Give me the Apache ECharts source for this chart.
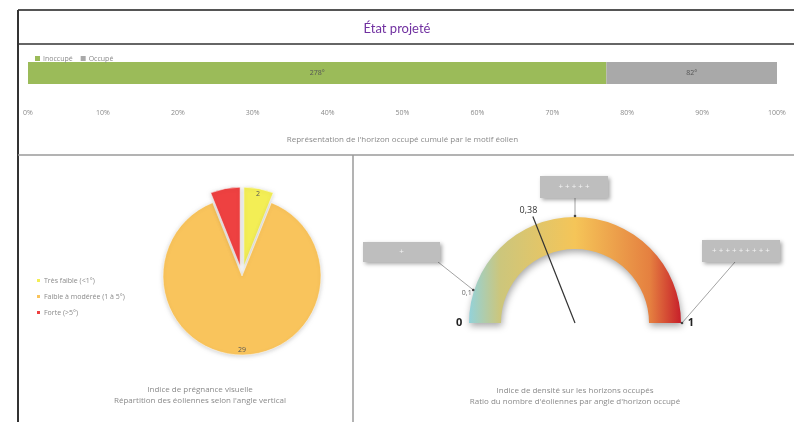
<!DOCTYPE html>
<html>
<head>
<meta charset="utf-8">
<title>État projeté</title>
<script src="https://cdn.jsdelivr.net/npm/echarts@6/dist/echarts.min.js"></script>
<style>
  html, body { margin: 0; padding: 0; background: #ffffff; }
  #chart { width: 794px; height: 422px; }
</style>
</head>
<body>
<div id="chart"></div>
<script>
// Horizon occupancy (degrees)
const horizonNames = ['Inoccupé', 'Occupé'];
const horizonDegrees = [278, 82];

// Visual prominence: wind turbines by vertical angle class
const prominenceNames = ['Très faible (<1°)', 'Faible à modérée (1 à 5°)', 'Forte (>5°)'];
const prominenceCounts = [2, 29, 2];
const prominenceShowLabel = [true, true, false];

// Density index on occupied horizons
const densityValue = 0.38;
const densityMin = 0;
const densityMax = 1;
const densityLabelValues = [0, 0.1, 1];
const calloutValues = [0.1, 0.5, 1];
const calloutTexts = ['+', '+ + + + +', '+ + + + + + + + +'];

const FONT = '"Open Sans", "DejaVu Sans", sans-serif';
const GREY_TEXT = '#8a8a8a';

const horizonTotal = horizonDegrees.reduce((a, b) => a + b, 0);

// gauge geometry
const GAUGE_CENTER = [575, 323];
const GAUGE_RADIUS = 106;
const GAUGE_WIDTH = 32;

function gaugePoint(v, r) {
  const a = Math.PI * (1 - (v - densityMin) / (densityMax - densityMin));
  return [GAUGE_CENTER[0] + r * Math.cos(a), GAUGE_CENTER[1] - r * Math.sin(a)];
}

// colour ramp along the arc, expressed as a left-to-right gradient
// (position t along the arc lands at x = (1 - cos(pi t)) / 2 of the arc's box)
const rampStops = [[0, '#93D2DA'], [0.25, '#CCC67C'], [0.5, '#F5C558'], [0.75, '#E58040'], [1, '#C71F2A']];
const rampGradient = new echarts.graphic.LinearGradient(0, 0, 1, 0,
  rampStops.map(([t, c]) => ({ offset: (1 - Math.cos(Math.PI * t)) / 2, color: c })));

const prominenceColors = ['#F3EE55', '#F9C45C', '#EE4141'];

const pieData = prominenceNames.map((n, i) => ({
  name: n,
  value: prominenceCounts[i],
  selected: i !== 1,
  itemStyle: { color: prominenceColors[i] }
}));
const pieLabelData = prominenceNames.map((n, i) => ({
  name: n,
  value: prominenceCounts[i],
  selected: i !== 1,
  label: { show: prominenceShowLabel[i] }
}));

// callout boxes and leader lines for the gauge
const calloutBoxes = [
  { x: 363, y: 242, w: 77, h: 20, from: [438, 262] },
  { x: 540, y: 176, w: 68, h: 22, from: [575, 198] },
  { x: 702, y: 240, w: 78, h: 22, from: [735, 262] }
];
const calloutGraphics = [];
calloutBoxes.forEach((b, i) => {
  const end = gaugePoint(calloutValues[i], GAUGE_RADIUS + 1);
  calloutGraphics.push({
    type: 'line', silent: true,
    shape: { x1: b.from[0], y1: b.from[1], x2: end[0], y2: end[1] },
    style: { stroke: '#8c8c8c', lineWidth: 0.8 }
  });
  calloutGraphics.push({
    type: 'circle', silent: true,
    shape: { cx: end[0], cy: end[1], r: 1.3 },
    style: { fill: '#444' }, z: 10
  });
  calloutGraphics.push({
    type: 'rect', silent: true,
    shape: { x: b.x, y: b.y, width: b.w, height: b.h },
    style: { fill: '#BEBEBE', shadowBlur: 4, shadowOffsetX: 2, shadowOffsetY: 2, shadowColor: 'rgba(0,0,0,0.35)' }
  });
  calloutGraphics.push({
    type: 'text', silent: true,
    style: {
      x: b.x + b.w / 2, y: b.y + b.h / 2, text: calloutTexts[i],
      align: 'center', verticalAlign: 'middle',
      fill: '#f4f4f4', font: '8px ' + FONT
    }
  });
});

const frameGraphics = [
  { type: 'line', shape: { x1: 18, y1: 10, x2: 794, y2: 10 }, style: { stroke: '#555', lineWidth: 2 } },
  { type: 'line', shape: { x1: 18, y1: 44, x2: 794, y2: 44 }, style: { stroke: '#666', lineWidth: 2 } },
  { type: 'line', shape: { x1: 18, y1: 10, x2: 18, y2: 422 }, style: { stroke: '#333', lineWidth: 2 } },
  { type: 'line', shape: { x1: 18, y1: 155, x2: 794, y2: 155 }, style: { stroke: '#9a9a9a', lineWidth: 1.5 } },
  { type: 'line', shape: { x1: 353, y1: 155, x2: 353, y2: 422 }, style: { stroke: '#9a9a9a', lineWidth: 1.5 } }
];

function caption(x, y, text) {
  return {
    type: 'text', silent: true,
    style: { x: x, y: y, text: text, align: 'center', verticalAlign: 'middle', fill: GREY_TEXT, font: '8px ' + FONT }
  };
}

const chart = echarts.init(document.getElementById('chart'), null, { renderer: 'canvas' });

const option = {
  backgroundColor: '#ffffff',
  animation: false,
  title: {
    text: 'État projeté',
    left: 'center',
    top: 17,
    textStyle: { color: '#7030A0', fontSize: 13, fontWeight: 'normal', fontFamily: 'Lato, "Open Sans", sans-serif' }
  },
  legend: [
    {
      data: horizonNames,
      left: 30, top: 50,
      icon: 'rect', itemWidth: 5, itemHeight: 5, itemGap: 8,
      textStyle: { fontSize: 7, color: GREY_TEXT, fontFamily: FONT, padding: [0, 0, 0, -2] }
    },
    {
      data: prominenceNames,
      orient: 'vertical',
      left: 30, top: 272,
      icon: 'rect', itemWidth: 5, itemHeight: 5, itemGap: 9,
      textStyle: { fontSize: 7, color: GREY_TEXT, fontFamily: FONT, padding: [0, 0, 0, -2] }
    }
  ],
  grid: { left: 28, right: 17, top: 62, height: 22, containLabel: false },
  xAxis: {
    type: 'value',
    min: 0,
    max: horizonTotal,
    interval: horizonTotal / 10,
    axisLine: { show: false },
    axisTick: { show: false },
    splitLine: { show: false },
    axisLabel: {
      formatter: v => Math.round(v / horizonTotal * 100) + '%',
      fontSize: 7, color: GREY_TEXT, fontFamily: FONT, margin: 25
    },
    name: 'Représentation de l\'horizon occupé cumulé par le motif éolien',
    nameLocation: 'middle',
    nameGap: 52,
    nameTextStyle: { fontSize: 8, color: GREY_TEXT, fontFamily: FONT }
  },
  yAxis: { type: 'category', data: ['horizon'], show: false },
  series: [
    {
      name: horizonNames[0], type: 'bar', stack: 'horizon', barWidth: '100%',
      data: [horizonDegrees[0]],
      itemStyle: { color: '#9BBB59' },
      label: { show: true, position: 'inside', formatter: '{c}°', fontSize: 7, color: '#555', fontFamily: FONT }
    },
    {
      name: horizonNames[1], type: 'bar', stack: 'horizon', barWidth: '100%',
      data: [horizonDegrees[1]],
      itemStyle: { color: '#A9A9A9' },
      label: { show: true, position: 'inside', formatter: '{c}°', fontSize: 7, color: '#555', fontFamily: FONT }
    },
    {
      name: 'Prégnance', type: 'pie',
      center: [242, 276], radius: 79,
      startAngle: 90, clockwise: true,
      selectedMode: 'multiple', selectedOffset: 10,
      label: { show: false }, labelLine: { show: false },
      itemStyle: { borderColor: '#ffffff', borderWidth: 0.5, shadowBlur: 4, shadowColor: 'rgba(0,0,0,0.18)', shadowOffsetY: 1 },
      emphasis: { disabled: true },
      data: pieData
    },
    {
      name: 'PrégnanceLabels', type: 'pie',
      center: [242, 276], radius: [60, 82],
      startAngle: 90, clockwise: true,
      selectedMode: 'multiple', selectedOffset: 10,
      silent: true, legendHoverLink: false,
      itemStyle: { color: 'rgba(0,0,0,0)' },
      label: { show: true, position: 'inside', formatter: '{c}', fontSize: 7, color: '#555', fontFamily: FONT },
      labelLine: { show: false },
      emphasis: { disabled: true },
      data: pieLabelData
    },
    {
      name: 'Densité', type: 'gauge',
      center: GAUGE_CENTER, radius: GAUGE_RADIUS,
      startAngle: 180, endAngle: 0,
      min: densityMin, max: densityMax, splitNumber: 10,
      progress: { show: false },
      splitLine: { show: false, length: 0, distance: 0 },
      axisTick: { show: false },
      anchor: { show: false },
      title: { show: false },
      axisLine: {
        roundCap: false,
        lineStyle: {
          width: GAUGE_WIDTH, color: [[1, rampGradient]],
          shadowBlur: 7, shadowColor: 'rgba(0,0,0,0.35)', shadowOffsetY: 3, shadowOffsetX: 1
        }
      },
      axisLabel: {
        distance: -13,
        formatter: v => {
          const hit = densityLabelValues.find(d => Math.abs(d - v) < 1e-6);
          if (hit === undefined) return '';
          const txt = String(hit).replace('.', ',');
          return hit === densityMin || hit === densityMax ? '{big|' + txt + '}' : '{small|' + txt + '}';
        },
        rich: {
          big: { fontSize: 11, color: '#222', fontFamily: FONT, fontWeight: 'bold' },
          small: { fontSize: 7, color: '#666', fontFamily: FONT, padding: [14, 0, 0, 0] }
        }
      },
      pointer: {
        show: true, icon: 'rect', length: '108%', width: 1.2,
        itemStyle: { color: '#333' }
      },
      detail: {
        show: true,
        formatter: v => v.toFixed(2).replace('.', ','),
        offsetCenter: (function () {
          const p = gaugePoint(densityValue, 121);
          return [p[0] - GAUGE_CENTER[0] - 2, p[1] - GAUGE_CENTER[1]];
        })(),
        fontSize: 9, color: '#333', fontFamily: FONT, fontWeight: 'normal'
      },
      data: [{ value: densityValue, name: 'Densité' }]
    }
  ],
  graphic: [].concat(
    frameGraphics,
    calloutGraphics,
    [
      caption(200, 390, 'Indice de prégnance visuelle'),
      caption(200, 401, 'Répartition des éoliennes selon l\'angle vertical'),
      caption(575, 391, 'Indice de densité sur les horizons occupés'),
      caption(575, 402, 'Ratio du nombre d\'éoliennes par angle d\'horizon occupé')
    ]
  )
};

chart.setOption(option);
</script>
</body>
</html>
